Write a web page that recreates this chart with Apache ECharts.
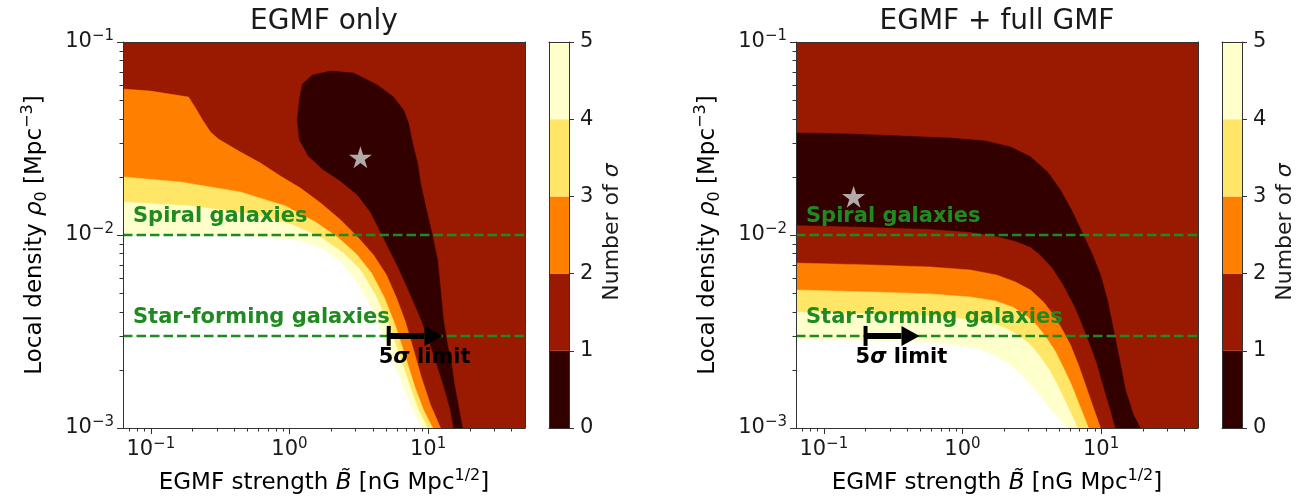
<!DOCTYPE html>
<html><head><meta charset="utf-8">
<script src="https://cdn.jsdelivr.net/npm/echarts@6/dist/echarts.min.js"></script>
<style>html,body{margin:0;padding:0;background:#fff}#c{width:1297px;height:502px}</style>
</head><body><div id="c"></div>
<script>
// ---------------- data ----------------
const sigmaLevels = [0, 1, 2, 3, 4, 5];
const sigmaColors = ['#330000', '#991a00', '#ff8000', '#ffe666', '#ffffcc'];
const aboveColor = '#ffffff';
const xTicks = [0.1, 1, 10];
const yTicks = [0.001, 0.01, 0.1];
const xMinorTicks = [0.07,0.08,0.09,0.2,0.3,0.4,0.5,0.6,0.7,0.8,0.9,2,3,4,5,6,7,8,9,20,30,40];
const yMinorTicks = [0.002,0.003,0.004,0.005,0.006,0.007,0.008,0.009,0.02,0.03,0.04,0.05,0.06,0.07,0.08,0.09];
const bRange = [0.063, 50];
const rhoRange = [0.001, 0.1];
const galaxyDensities = [0.01, 0.003];
const galaxyLabels = ['Spiral galaxies', 'Star-forming galaxies'];
const panelTitles = ['EGMF only', 'EGMF + full GMF'];

// left panel (EGMF only): contour boundaries [B, rho]
const leftSigma1Blob = [[1.98,0.0707],[2.90,0.0691],[4.31,0.0599],[5.63,0.0519],[6.65,0.0444],[7.22,0.0380],[7.72,0.0300],[8.39,0.0236],[8.82,0.0186],[9.74,0.01348],[10.8,0.00976],[11.7,0.00742],[12.3,0.00519],[12.9,0.00363],[13.8,0.00269],[14.8,0.00212],[15.5,0.00167],[16.6,0.00128],[17.7,0.001],[15.3,0.001],[14.5,0.00124],[13.1,0.00161],[11.5,0.00217],[10.1,0.00286],[8.82,0.00372],[7.22,0.00519],[6.12,0.00675],[5.27,0.00836],[4.54,0.01036],[3.84,0.01316],[3.10,0.01612],[2.33,0.01905],[1.73,0.02198],[1.37,0.02566],[1.18,0.0311],[1.14,0.0394],[1.18,0.0501],[1.24,0.0606],[1.47,0.0675]];
const leftSigma2 = [[0.063,0.0571],[0.0993,0.0557],[0.187,0.0519],[0.21,0.0455],[0.236,0.0394],[0.269,0.0342],[0.307,0.0314],[0.443,0.0269],[0.618,0.0236],[0.861,0.0202],[1.20,0.0175],[1.67,0.0147],[2.33,0.0120],[3.15,0.00965],[4.04,0.00788],[5.01,0.00621],[5.92,0.00472],[6.87,0.00354],[7.85,0.00254],[8.96,0.00182],[10.4,0.00132],[12.3,0.001]];
const leftSigma3 = [[0.063,0.0200],[0.164,0.0188],[0.443,0.0167],[0.936,0.01414],[1.54,0.01168],[2.26,0.00965],[3.04,0.00797],[3.91,0.00635],[4.85,0.00472],[5.82,0.00338],[6.87,0.00233],[7.98,0.00165],[9.26,0.00124],[10.8,0.001]];
const leftSigma4 = [[0.063,0.01483],[0.193,0.01414],[0.523,0.01285],[1.02,0.0114],[1.67,0.00976],[2.45,0.00807],[3.25,0.00659],[4.17,0.00489],[5.18,0.00342],[6.22,0.00239],[7.34,0.00167],[8.52,0.00124],[9.9,0.001]];
const leftSigma5 = [[0.063,0.01012],[0.228,0.0100],[0.618,0.00976],[1.20,0.00931],[1.73,0.00846],[2.33,0.00725],[2.99,0.00585],[3.72,0.00444],[4.54,0.00322],[5.54,0.00225],[6.65,0.00161],[7.72,0.00124],[8.96,0.001]];
const leftStar = [3.25, 0.0253];
const leftLimit = [5.2, 12.7];

// right panel (EGMF + full GMF)
const rightSigma1Upper = [[0.063,0.0338],[0.156,0.0334],[0.357,0.0326],[0.819,0.0318],[1.47,0.0307],[2.22,0.0286],[3.10,0.0254],[4.11,0.0212],[5.09,0.0171],[6.22,0.01316],[7.46,0.0100],[8.67,0.00788],[9.90,0.00621],[11.1,0.00461],[12.3,0.00322],[13.6,0.00225],[15.0,0.00157],[17.1,0.00117],[19.2,0.001]];
const rightSigma1Lower = [[0.063,0.01127],[0.217,0.0110],[0.588,0.01074],[1.14,0.01036],[1.73,0.00988],[2.41,0.00931],[3.10,0.00867],[3.65,0.00788],[4.46,0.00675],[5.35,0.00551],[6.54,0.00418],[7.85,0.00303],[9.27,0.0022],[10.6,0.00157],[11.7,0.00124],[12.7,0.001]];
const rightSigma2 = [[0.063,0.00716],[0.217,0.0070],[0.588,0.00683],[1.14,0.00659],[1.76,0.00621],[2.41,0.00571],[3.10,0.00519],[3.84,0.0045],[4.54,0.00385],[5.27,0.00322],[6.02,0.00269],[6.87,0.00212],[7.72,0.00167],[8.67,0.00131],[9.9,0.001]];
const rightSigma3 = [[0.063,0.00519],[0.217,0.00507],[0.588,0.00495],[1.14,0.00477],[1.73,0.00455],[2.30,0.00423],[2.85,0.00385],[3.42,0.00342],[4.04,0.00293],[4.69,0.00248],[5.35,0.00205],[6.12,0.00167],[6.87,0.00135],[7.59,0.00113],[8.11,0.001]];
const rightSigma4 = [[0.063,0.00399],[0.217,0.0039],[0.588,0.0038],[1.05,0.00367],[1.59,0.0035],[2.04,0.0033],[2.54,0.00303],[3.10,0.00269],[3.65,0.00233],[4.24,0.002],[4.85,0.00167],[5.44,0.0014],[6.12,0.00117],[6.76,0.001]];
const rightSigma5 = [[0.063,0.00286],[0.217,0.00282],[0.588,0.00276],[0.967,0.00266],[1.35,0.00254],[1.73,0.00236],[2.15,0.00215],[2.62,0.0019],[3.15,0.00165],[3.72,0.00143],[4.31,0.00124],[5.01,0.0011],[5.72,0.001]];
const rightStar = [0.164, 0.0158];
const rightLimit = [0.2, 0.49];

// ---------------- chart ----------------
const FONT = 'DejaVu Sans';
const AXC = '#333333';
const TXT = '#1a1a1a';
const GREEN = '#1f8a1f';
const STAR = 'path://M50,0 L61,35 L98,35 L68,57 L79,91 L50,70 L21,91 L32,57 L2,35 L39,35 Z';

const richTick = {
  b: {fontFamily: FONT, fontSize: 21, lineHeight: 26, color: TXT},
  s: {fontFamily: FONT, fontSize: 15, lineHeight: 15, color: TXT, verticalAlign: 'top'}
};
function powLabel(v) {
  const e = Math.round(Math.log10(v));
  return '{b|10}{s|' + (e < 0 ? '\u2212' + (-e) : String(e)) + '}';
}
const richName = {
  n: {fontFamily: FONT, fontSize: 23, lineHeight: 30, color: TXT},
  i: {fontFamily: FONT, fontSize: 23, lineHeight: 30, color: TXT, fontStyle: 'italic'},
  sup: {fontFamily: FONT, fontSize: 16, lineHeight: 16, color: TXT, verticalAlign: 'top'},
  sub: {fontFamily: FONT, fontSize: 16, lineHeight: 16, color: TXT, verticalAlign: 'bottom'}
};

const panels = [
  {left: 123, title: panelTitles[0], star: leftStar, limit: leftLimit,
   regions: [[leftSigma1Blob, sigmaColors[0], true], [leftSigma2, sigmaColors[2]], [leftSigma3, sigmaColors[3]], [leftSigma4, sigmaColors[4]], [leftSigma5, aboveColor]]},
  {left: 796, title: panelTitles[1], star: rightStar, limit: rightLimit,
   regions: [[rightSigma1Upper.concat(rightSigma1Lower.slice().reverse()), sigmaColors[0], true], [rightSigma2, sigmaColors[2]], [rightSigma3, sigmaColors[3]], [rightSigma4, sigmaColors[4]], [rightSigma5, aboveColor]]}
];

const grids = [], xAxes = [], yAxes = [], series = [], graphics = [];
const lineStyle = {color: AXC, width: 1};

function logAxis(g, min, max, pos, extra) {
  return Object.assign({
    type: 'log', logBase: 10, gridIndex: g, min: min, max: max, position: pos, z: 10,
    splitLine: {show: false}, minorTick: {show: false}, minorSplitLine: {show: false},
    axisLine: {show: false, onZero: false}, axisTick: {show: false}, axisLabel: {show: false}
  }, extra);
}

panels.forEach(function (p) {
  const g = grids.length;
  grids.push({left: p.left, top: 42, width: 402, height: 386, show: true, backgroundColor: sigmaColors[1], borderWidth: 0});
  const xi = xAxes.length, yi = yAxes.length;
  xAxes.push(logAxis(g, bRange[0], bRange[1], 'bottom', {
    axisLine: {show: true, onZero: false, lineStyle: lineStyle},
    axisTick: {show: true, customValues: xTicks, length: 6, lineStyle: lineStyle},
    axisLabel: {show: true, customValues: xTicks, formatter: powLabel, rich: richTick, margin: 9}
  }));
  xAxes.push(logAxis(g, bRange[0], bRange[1], 'bottom', {
    axisTick: {show: true, customValues: xMinorTicks, length: 3.5, lineStyle: lineStyle}
  }));
  xAxes.push(logAxis(g, bRange[0], bRange[1], 'top', {axisLine: {show: true, onZero: false, lineStyle: lineStyle}}));
  yAxes.push(logAxis(g, rhoRange[0], rhoRange[1], 'left', {
    axisLine: {show: true, onZero: false, lineStyle: lineStyle},
    axisTick: {show: true, customValues: yTicks, length: 6, lineStyle: lineStyle},
    axisLabel: {show: true, customValues: yTicks, formatter: powLabel, rich: richTick, margin: 9}
  }));
  yAxes.push(logAxis(g, rhoRange[0], rhoRange[1], 'left', {
    axisTick: {show: true, customValues: yMinorTicks, length: 3.5, lineStyle: lineStyle}
  }));
  yAxes.push(logAxis(g, rhoRange[0], rhoRange[1], 'right', {axisLine: {show: true, onZero: false, lineStyle: lineStyle}}));

  // filled contour regions
  p.regions.forEach(function (r, k) {
    const pts = r[2] ? r[0] : r[0].concat([[bRange[0], rhoRange[0]]]);
    series.push({
      type: 'custom', xAxisIndex: xi, yAxisIndex: yi, z: 2 + k * 0.01, silent: true, clip: true,
      data: pts,
      renderItem: function (params, api) {
        if (params.dataIndex !== 0) return null;
        return {type: 'polygon', shape: {points: pts.map(function (q) { return api.coord(q); })},
                style: {fill: r[1], stroke: r[1], lineWidth: 0.5}};
      }
    });
  });

  // galaxy density lines
  galaxyDensities.forEach(function (rho) {
    series.push({
      type: 'line', xAxisIndex: xi, yAxisIndex: yi, z: 3, silent: true, symbol: 'none',
      data: [[bRange[0], rho], [bRange[1], rho]],
      lineStyle: {color: GREEN, width: 2.5, type: [9.5, 4]}
    });
  });
  series.push({
    type: 'custom', xAxisIndex: xi, yAxisIndex: yi, z: 5, silent: true, clip: false,
    data: galaxyDensities.map(function (rho) { return [bRange[0], rho]; }),
    renderItem: function (params, api) {
      const c = api.coord([api.value(0), api.value(1)]);
      return {type: 'text', x: c[0] + 10, y: c[1] - 18,
        style: {text: galaxyLabels[params.dataIndex], fill: GREEN, fontFamily: FONT, fontWeight: 'bold', fontSize: 21, align: 'left', verticalAlign: 'middle'}};
    }
  });

  // best-fit star
  series.push({
    type: 'scatter', xAxisIndex: xi, yAxisIndex: yi, z: 4, silent: true,
    data: [p.star], symbol: STAR, symbolSize: [23, 22], itemStyle: {color: '#d3d3d3'}
  });

  // 5 sigma limit arrow
  series.push({
    type: 'custom', xAxisIndex: xi, yAxisIndex: yi, z: 6, silent: true, clip: false,
    data: [[p.limit[0], galaxyDensities[1]]],
    renderItem: function (params, api) {
      const t = api.coord([p.limit[0], galaxyDensities[1]]);
      const h = api.coord([p.limit[1], galaxyDensities[1]]);
      return {type: 'group', children: [
        {type: 'rect', shape: {x: t[0] - 2, y: t[1] - 10, width: 4, height: 20}, style: {fill: '#000'}},
        {type: 'rect', shape: {x: t[0], y: t[1] - 3, width: h[0] - 18 - t[0], height: 6}, style: {fill: '#000'}},
        {type: 'polygon', shape: {points: [[h[0] - 18, t[1] - 10], [h[0], t[1]], [h[0] - 18, t[1] + 10]]}, style: {fill: '#000'}},
        {type: 'text', x: t[0] - 10, y: t[1] + 22, style: {
          text: '{b|5}{i|\u03c3}{b| limit}', align: 'left', verticalAlign: 'middle',
          rich: {b: {fontFamily: FONT, fontWeight: 'bold', fontSize: 21, fill: '#000', color: '#000'},
                 i: {fontFamily: FONT, fontWeight: 'bold', fontStyle: 'italic', fontSize: 21, fill: '#000', color: '#000'}}}}
      ]};
    }
  });

  // colour bar
  const cg = grids.length;
  grids.push({left: p.left + 426, top: 42, width: 20, height: 386});
  const cxi = xAxes.length, cyi = yAxes.length;
  xAxes.push({type: 'category', gridIndex: cg, data: [''], position: 'bottom', z: 10,
    axisLine: {show: true, onZero: false, lineStyle: lineStyle}, axisTick: {show: false}, axisLabel: {show: false}, splitLine: {show: false}});
  xAxes.push({type: 'category', gridIndex: cg, data: [''], position: 'top', z: 10,
    axisLine: {show: true, onZero: false, lineStyle: lineStyle}, axisTick: {show: false}, axisLabel: {show: false}, splitLine: {show: false}});
  yAxes.push({type: 'value', gridIndex: cg, min: sigmaLevels[0], max: sigmaLevels[sigmaLevels.length - 1], interval: 1, position: 'right', z: 10,
    axisLine: {show: true, onZero: false, lineStyle: lineStyle}, axisTick: {show: true, length: 5, lineStyle: lineStyle},
    axisLabel: {show: true, fontFamily: FONT, fontSize: 21, color: TXT, margin: 11}, splitLine: {show: false}});
  yAxes.push({type: 'value', gridIndex: cg, min: sigmaLevels[0], max: sigmaLevels[sigmaLevels.length - 1], position: 'left', z: 10,
    axisLine: {show: true, onZero: false, lineStyle: lineStyle}, axisTick: {show: false}, axisLabel: {show: false}, splitLine: {show: false}});
  sigmaColors.forEach(function (col, i) {
    series.push({type: 'bar', xAxisIndex: cxi, yAxisIndex: cyi, stack: 'cb' + cg, silent: true, barWidth: '100%',
      data: [sigmaLevels[i + 1] - sigmaLevels[i]], itemStyle: {color: col}});
  });

  // texts
  graphics.push({type: 'text', x: p.left + 201, y: 22, style: {text: p.title, fontFamily: FONT, fontSize: 28, fill: TXT, align: 'center', verticalAlign: 'middle'}});
  graphics.push({type: 'text', x: p.left + 201, y: 483, style: {
    text: '{n|EGMF strength }{i|B\u0303}{n| [nG Mpc}{sup|1/2}{n|]}', rich: richName, align: 'center', verticalAlign: 'middle'}});
  graphics.push({type: 'text', x: p.left - 88, y: 235, rotation: Math.PI / 2, style: {
    text: '{n|Local density }{i|\u03c1}{sub|0}{n| [Mpc}{sup|\u22123}{n|]}', rich: richName, align: 'center', verticalAlign: 'middle'}});
  graphics.push({type: 'text', x: p.left + 489, y: 232, rotation: Math.PI / 2, style: {
    text: '{n|Number of }{i|\u03c3}', rich: {n: {fontFamily: FONT, fontSize: 22, fill: TXT, color: TXT}, i: {fontFamily: FONT, fontSize: 22, fontStyle: 'italic', fill: TXT, color: TXT}},
    align: 'center', verticalAlign: 'middle'}});
});

const chart = echarts.init(document.getElementById('c'));
chart.setOption({
  animation: false,
  backgroundColor: '#ffffff',
  grid: grids, xAxis: xAxes, yAxis: yAxes, series: series, graphic: graphics
});
</script>
</body></html>
